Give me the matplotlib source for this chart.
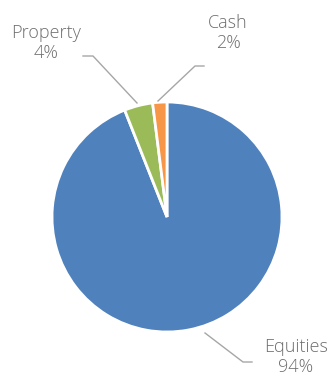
import matplotlib
matplotlib.use("Agg")
import matplotlib.pyplot as plt

categories = ["Equities", "Property", "Cash"]
values = [94, 4, 2]
colors = ["#4F81BD", "#9BBB59", "#F79646"]

W, H = 329, 376
fig = plt.figure(figsize=(W / 100, H / 100), dpi=100)
ax = fig.add_axes([0, 0, 1, 1])

cx, cy, r = 167, H - 217, 115
ax.pie(values, colors=colors, startangle=90, counterclock=False,
       center=(cx, cy), radius=r, frame=True,
       wedgeprops=dict(edgecolor="white", linewidth=2.0))
ax.set_xlim(0, W)
ax.set_ylim(0, H)
ax.set_aspect("equal")
ax.axis("off")

font = dict(family=["Open Sans", "DejaVu Sans"], fontweight="light",
            color="#6E6E6E", fontsize=13)
labels = {
    "Property": (46, 43),
    "Cash": (228, 33),
    "Equities": (296, 357),
}
for cat, v in zip(categories, values):
    x, y = labels[cat]
    ax.text(x, H - y, f"{cat}\n{v}%", ha="center", va="center", linespacing=1.15, **font)

lc = "#A6A6A6"
leaders = [
    [(83, 56), (93, 56), (137, 103)],
    [(204, 66), (195, 66), (158, 101)],
    [(252, 362), (243, 362), (205, 333)],
]
for pts in leaders:
    xs = [p[0] for p in pts]
    ys = [H - p[1] for p in pts]
    ax.plot(xs, ys, color=lc, linewidth=1.0)

fig.savefig("out.png", dpi=100)
